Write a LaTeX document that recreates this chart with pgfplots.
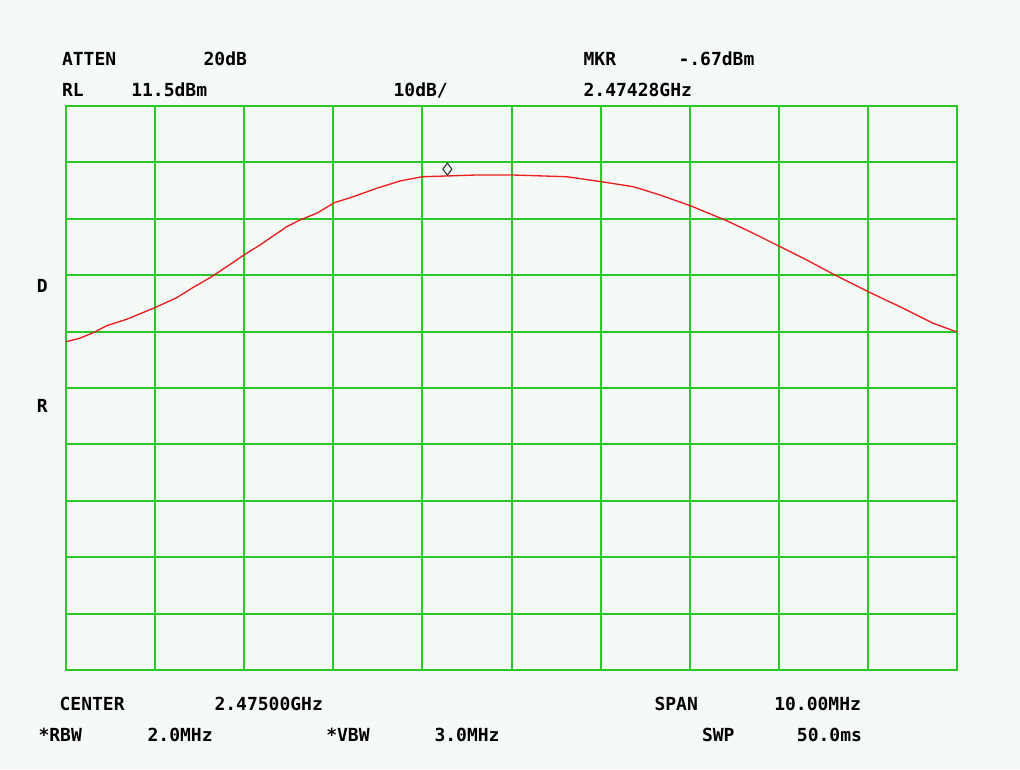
\documentclass[border=0pt]{standalone}
\usepackage{pgfplots}
\pgfplotsset{compat=1.18}
\usepackage{fontspec}
\newfontfamily\scr{DejaVu Sans Mono}[BoldFont={DejaVu Sans Mono Bold}]
\definecolor{bgc}{RGB}{246,250,246}
\definecolor{gridg}{RGB}{40,200,40}
\definecolor{trace}{RGB}{235,30,30}
\begin{document}
\begin{tikzpicture}[every node/.style={inner sep=0pt, anchor=base west, font=\scr\bfseries\fontsize{13.5pt}{15pt}\selectfont}]
\fill[bgc] (0,0) rectangle (765pt,576.75pt);
\begin{axis}[
  at={(49.5pt,74.25pt)}, anchor=south west,
  scale only axis, width=668.25pt, height=423pt,
  xmin=2470, xmax=2480, ymin=-88.5, ymax=11.5,
  xtick={2470,2471,...,2480},
  ytick={-88.5,-78.5,-68.5,-58.5,-48.5,-38.5,-28.5,-18.5,-8.5,1.5,11.5},
  xticklabels={}, yticklabels={},
  major tick length=0pt,
  grid=major,
  grid style={gridg, line width=1.5pt},
  axis line style={gridg, line width=1.5pt},
  clip=false,
]
\addplot[trace, line width=1pt] coordinates {
(2470.000,-30.29) (2470.150,-29.70) (2470.306,-28.70) (2470.457,-27.45) (2470.681,-26.32)
(2471.007,-24.19) (2471.242,-22.49) (2471.429,-20.65) (2471.635,-18.77)
(2471.804,-16.99) (2472.009,-14.79) (2472.177,-13.15) (2472.477,-9.90)
(2472.626,-8.71) (2472.814,-7.52) (2473.011,-5.65) (2473.224,-4.58)
(2473.487,-3.09) (2473.749,-1.80) (2473.999,-1.04) (2474.273,-0.91)
(2474.609,-0.73) (2475.006,-0.73) (2475.619,-1.04) (2476.008,-1.92)
(2476.367,-2.81) (2476.667,-4.28) (2477.015,-6.23) (2477.415,-8.84)
(2477.714,-11.07) (2477.999,-13.32) (2478.313,-15.80) (2478.650,-18.64)
(2479.004,-21.43) (2479.360,-24.09) (2479.734,-27.03) (2480.000,-28.57)
};
\addplot[black!80, only marks, mark=diamond, mark size=4.5pt, mark options={line width=0.8pt, fill=none}] coordinates {(2474.28,0.3)};
\end{axis}
\node at (46.3pt,527.25pt) {ATTEN};
\node at (152.5pt,527.25pt) {20dB};
\node at (437.5pt,527.25pt) {MKR};
\node at (508.7pt,527.25pt) {-.67dBm};
\node at (46.3pt,504.2pt) {RL};
\node at (98.25pt,504.2pt) {11.5dBm};
\node at (295pt,504.2pt) {10dB/};
\node at (437.5pt,504.2pt) {2.47428GHz};
\node at (44.5pt,44.25pt) {CENTER};
\node at (160.7pt,44.25pt) {2.47500GHz};
\node at (490.7pt,44.25pt) {SPAN};
\node at (580.5pt,44.25pt) {10.00MHz};
\node at (28.7pt,21pt) {*RBW};
\node at (110.5pt,21pt) {2.0MHz};
\node at (244.5pt,21pt) {*VBW};
\node at (325.7pt,21pt) {3.0MHz};
\node at (526.3pt,21pt) {SWP};
\node at (597.5pt,21pt) {50.0ms};
\node at (27.5pt,357.75pt) {D};
\node at (27.5pt,267.75pt) {R};
\end{tikzpicture}
\end{document}
